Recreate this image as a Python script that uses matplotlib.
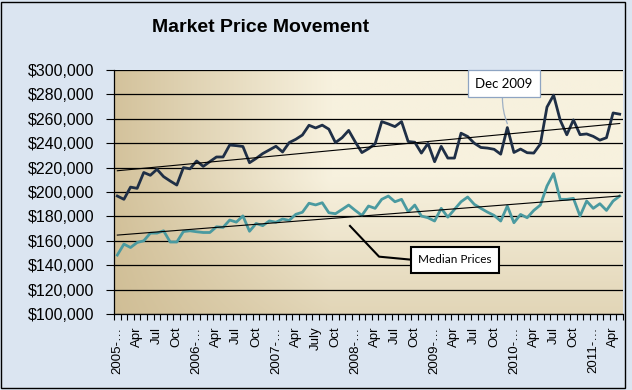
import numpy as np
import matplotlib
matplotlib.use("Agg")
import matplotlib.pyplot as plt
from matplotlib.patches import Rectangle
from matplotlib.ticker import FuncFormatter

# monthly data, Jan 2005 .. May 2011
avg_price = [
    196700, 194000, 204000, 203000, 216000, 213700, 218600, 212600, 209000, 205700,
    220000, 219000, 225400, 221000, 224900, 228700, 228700, 238500, 238000, 237300,
    224000, 227500, 231500, 234500, 237500, 232800, 240500, 243200, 246700, 254700,
    252500, 254800, 251500, 240500, 244500, 250500, 241000, 232300, 235500, 239500,
    257700, 255800, 253600, 257700, 241400, 240800, 231900, 239800, 224800, 237400,
    227800, 227800, 248200, 245500, 240000, 236500, 236000, 235000, 231000, 252800,
    232400, 235200, 232200, 231900, 239300, 269600, 279400, 258900, 246900, 259100,
    247000, 247600, 245600, 242500, 244500, 264800, 263800,
]
median_price = [
    148300, 157300, 154500, 158600, 160000, 166300, 166300, 168200, 159000, 159000,
    167600, 168200, 167400, 166800, 166800, 171500, 171000, 177000, 175300, 180400,
    167800, 174200, 172400, 176300, 175200, 177900, 176700, 181700, 183400, 190800,
    189400, 191200, 183000, 182200, 185700, 189300, 184900, 180800, 188500, 186600,
    194000, 196700, 192000, 194000, 183800, 189300, 180300, 178900, 176200, 186600,
    179400, 185700, 192000, 195900, 189900, 186600, 183500, 180800, 176200, 188500,
    174800, 181600, 178900, 184900, 189300, 204900, 215100, 194000, 194000, 194800,
    180300, 192600, 186600, 190400, 184900, 192600, 196700,
]
label_idx = list(range(0, 77, 3))
tick_labels = ["2005-…", "Apr", "Jul", "Oct", "2006-…", "Apr", "Jul", "Oct",
               "2007-…", "Apr", "July", "Oct", "2008-…", "Apr", "Jul", "Oct",
               "2009-…", "Apr", "Jul", "Oct", "2010-…", "Apr", "Jul", "Oct",
               "2011-…", "Apr"]

C_BG = "#dbe5f1"
C_NAVY = "#1f2f46"
C_TEAL = "#4a9aa0"

plt.rcParams["font.family"] = ["Liberation Sans", "DejaVu Sans"]

fig = plt.figure(figsize=(6.32, 3.9), dpi=100, facecolor=C_BG)
ax = fig.add_axes([114 / 632, 1 - 314 / 390, 509 / 632, 244 / 390])

# parchment style gradient fill of the plot area
H, W = 120, 260
xn = np.linspace(0, 1, W)[None, :]
yn = np.linspace(0, 1, H)[::-1, None]
t = np.clip(0.15 + 2.0 * xn, 0, 1) * (0.5 + 0.5 * np.clip(yn * 1.8, 0, 1))
t = np.clip(t, 0, 1)
dark = np.array([205, 186, 144]) / 255
light = np.array([247, 241, 222]) / 255
grad = dark[None, None, :] * (1 - t[..., None]) + light[None, None, :] * t[..., None]
ax.imshow(grad, extent=[0, 1, 0, 1], transform=ax.transAxes, aspect="auto",
          zorder=0, interpolation="bilinear")

x = np.arange(len(avg_price))
ax.plot(x, avg_price, color=C_NAVY, lw=2.0, zorder=3)
ax.plot(x, median_price, color=C_TEAL, lw=2.0, zorder=3)

# linear trendlines
for series in (avg_price, median_price):
    k = np.polyfit(x, series, 1)
    ax.plot(x, np.polyval(k, x), color="black", lw=0.8, zorder=4)

ax.set_xlim(-0.5, len(x) - 0.5)
ax.set_ylim(100000, 300000)
ax.set_yticks(range(100000, 300001, 20000))
ax.yaxis.set_major_formatter(FuncFormatter(lambda v, p: f"${v:,.0f}"))
ax.yaxis.grid(True, color="black", lw=0.9)
ax.set_axisbelow(True)

ax.set_xticks(label_idx)
ax.set_xticklabels(tick_labels, rotation=90, va="top", ha="center")
ax.set_xticks(np.arange(-0.5, len(x), 1), minor=True)
ax.tick_params(axis="x", which="major", length=0, pad=9, labelsize=9.5)
ax.tick_params(axis="x", which="minor", length=4, width=0.8, direction="out")
ax.tick_params(axis="y", length=6, width=0.8, pad=8, labelsize=11.5)

for s in ("top", "right"):
    ax.spines[s].set_visible(False)
for s in ("left", "bottom"):
    ax.spines[s].set_linewidth(0.9)

# callouts
ax.annotate("Dec 2009", xy=(59, 256000), xytext=(58.5, 288800),
            ha="center", va="center", fontsize=9.5, family=["Lato", "DejaVu Sans"],
            bbox=dict(boxstyle="square,pad=0.55", fc="white", ec="#8ea4c2", lw=0.9),
            arrowprops=dict(arrowstyle="-", color="#9fb0c4", lw=0.9,
                            connectionstyle="arc3,rad=0.15", shrinkA=0, shrinkB=0),
            zorder=6)
ax.plot([35.2, 39.6, 44.9], [172200, 147000, 144300], color="black", lw=1.5, zorder=5)
ax.text(51.1, 144300, "Median Prices", ha="center", va="center", fontsize=8.5,
        family=["Lato", "DejaVu Sans"], zorder=6,
        bbox=dict(boxstyle="square,pad=0.6", fc="white", ec="black", lw=1.5))

fig.text(261 / 632, 1 - 28 / 390, "Market Price Movement", ha="center", va="center",
         fontsize=14, fontweight="bold")

fig.patches.append(Rectangle((1 / 632, 2 / 390), 624 / 632, 386 / 390,
                             transform=fig.transFigure, fill=False, ec="black", lw=1.0))

fig.savefig("out.png", dpi=100, facecolor=C_BG)
